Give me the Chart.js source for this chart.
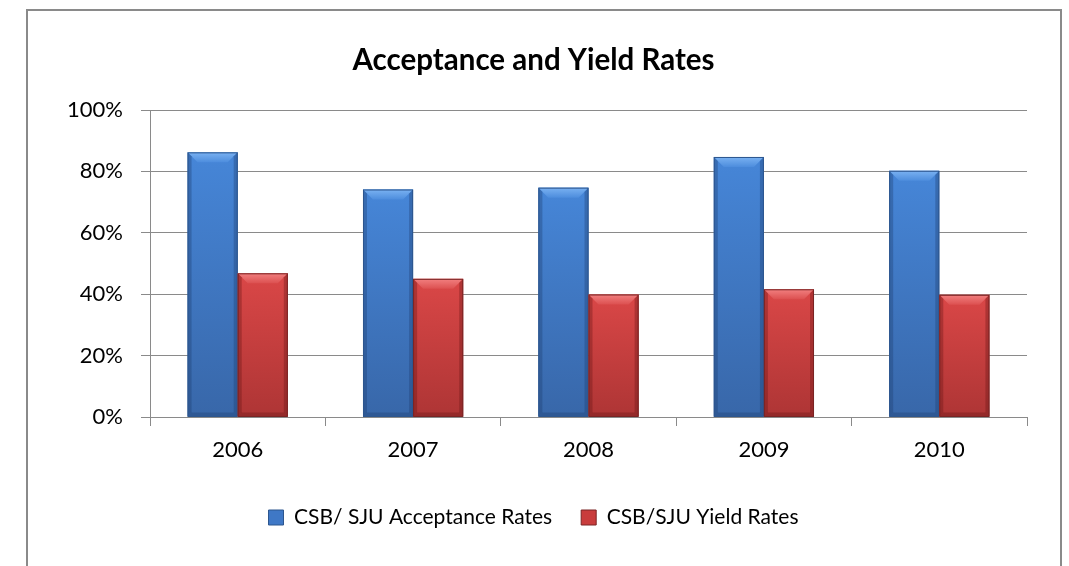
<!DOCTYPE html>
<html><head><meta charset="utf-8">
<script src="https://cdn.jsdelivr.net/npm/chart.js@4.4.0/dist/chart.umd.min.js"></script>
<style>html,body{margin:0;padding:0;background:#fff;overflow:hidden}</style>
</head><body>
<canvas id="c" width="1069" height="566"></canvas>
<script>
const categories = ['2006', '2007', '2008', '2009', '2010'];
const acceptanceRates = [86.2, 74.1, 74.7, 84.7, 80.2];
const yieldRates = [46.8, 45.0, 39.9, 41.6, 39.8];
const yTickValues = [0, 20, 40, 60, 80, 100];
const seriesNames = ['CSB/ SJU Acceptance Rates', 'CSB/SJU Yield Rates'];
const chartTitle = 'Acceptance and Yield Rates';

const FONT = 'Lato, "Open Sans", "Liberation Sans", sans-serif';
const palettes = [
  {top:'#4686D8', bottom:'#3867A9', light1:'#7AB2F2', light2:'#4D8DDD', side:'rgba(30,60,110,0.35)', border:'#2D568E', base:'#3F78C6'},
  {top:'#DA4747', bottom:'#AE3535', light1:'#F28080', light2:'#DC5050', side:'rgba(100,20,20,0.35)', border:'#7A2424', base:'#C93C3C'}
];

const frame = {
  id:'frame',
  beforeDraw(chart){
    const c = chart.ctx;
    c.save();
    c.fillStyle = '#fff';
    c.fillRect(0,0,chart.width,chart.height);
    c.strokeStyle = '#8a8a8a';
    c.lineWidth = 2;
    c.strokeRect(27, 10, 1034, 620);
    c.restore();
  }
};

function poly(c, pts, fill){
  c.beginPath();
  c.moveTo(pts[0], pts[1]);
  for (let i = 2; i < pts.length; i += 2) c.lineTo(pts[i], pts[i+1]);
  c.closePath();
  c.fillStyle = fill;
  c.fill();
}

const bevel = {
  id:'bevel',
  afterDatasetsDraw(chart){
    const c = chart.ctx;
    c.save();
    chart.data.datasets.forEach((ds, di) => {
      const meta = chart.getDatasetMeta(di);
      const p = palettes[di];
      meta.data.forEach(bar => {
        const {x, y, base, width} = bar.getProps(['x','y','base','width'], true);
        const l = x - width/2, r = x + width/2, t = y, b = base;
        const g = c.createLinearGradient(0, t, 0, b);
        g.addColorStop(0, p.top); g.addColorStop(1, p.bottom);
        c.fillStyle = g;
        c.fillRect(l, t, r - l, b - t);
        const k = 10, s = 4;
        const gt = c.createLinearGradient(0, t, 0, t + k);
        gt.addColorStop(0, p.light1); gt.addColorStop(1, p.light2);
        poly(c, [l, t, r, t, r - k, t + k, l + k, t + k], gt);
        poly(c, [l, t, l + s, t + s, l + s, b - s, l, b], p.side);
        poly(c, [r, t, r, b, r - s, b - s, r - s, t + s], p.side);
        poly(c, [l, b, l + s, b - s, r - s, b - s, r, b], p.side);
        c.strokeStyle = p.border;
        c.lineWidth = 1;
        c.strokeRect(l + 0.5, t + 0.5, r - l - 1, b - t - 0.5);
      });
    });
    c.restore();
  }
};

new Chart(document.getElementById('c'), {
  type: 'bar',
  data: {
    labels: categories,
    datasets: [
      {label: seriesNames[0], data: acceptanceRates, backgroundColor: palettes[0].base, borderColor: palettes[0].border, borderWidth: 1},
      {label: seriesNames[1], data: yieldRates, backgroundColor: palettes[1].base, borderColor: palettes[1].border, borderWidth: 1}
    ]
  },
  options: {
    responsive: false,
    animation: false,
    devicePixelRatio: 1,
    categoryPercentage: 2 / 3.5,
    barPercentage: 1,
    layout: {padding: {top: 10, left: 40, right: 42, bottom: 28}},
    plugins: {
      title: {display: true, text: chartTitle, color: '#000', font: {family: FONT, size: 29.5, weight: 'bold'}, padding: {top: 32.3, bottom: 32.3}},
      legend: {
        position: 'bottom',
        labels: {color: '#000', font: {family: FONT, size: 21}, boxWidth: 15, boxHeight: 15, padding: 29}
      },
      tooltip: {enabled: false}
    },
    scales: {
      x: {
        grid: {display: true, drawOnChartArea: false, offset: true, tickLength: 9, color: '#8a8a8a'},
        border: {color: '#8a8a8a'},
        ticks: {color: '#000', font: {family: FONT, size: 22}, padding: 11},
        afterFit(s){ s.height += 3.6; }
      },
      y: {
        min: 0, max: 100,
        afterBuildTicks(s){ s.ticks = yTickValues.map(v => ({value: v})); },
        grid: {color: '#8a8a8a', tickLength: 9},
        border: {color: '#8a8a8a'},
        ticks: {color: '#000', font: {family: FONT, size: 22}, padding: 18, callback: v => v + '%'},
        afterFit(s){ s.width = 110; }
      }
    }
  },
  plugins: [frame, bevel]
});
</script>
</body></html>
